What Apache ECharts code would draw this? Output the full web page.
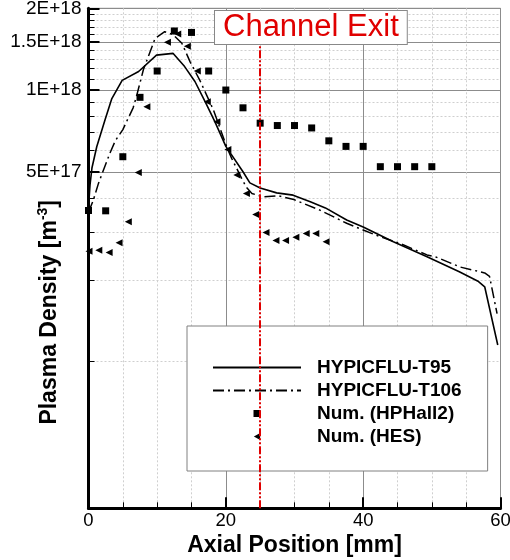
<!DOCTYPE html>
<html><head><meta charset="utf-8">
<script src="https://cdn.jsdelivr.net/npm/echarts@6/dist/echarts.min.js"></script>
<style>html,body{margin:0;padding:0;background:#fff}#c{width:510px;height:560px}</style>
</head><body><div id="c"></div>
<script>
const seriesNames = ['HYPICFLU-T95', 'HYPICFLU-T106', 'Num. (HPHall2)', 'Num. (HES)'];

const t95X = [0, 0.22, 0.5, 1.2, 2.4, 3.4, 4.9, 7.3, 9.9, 12.3, 14.0, 15.5, 17.0, 18.4, 20.0, 22.5, 23.5, 25.0, 27.4, 29.8, 32.3, 34.5, 37.6, 40.0, 44.4, 49.3, 54.0, 56.8, 57.7, 59.6];
const t95Y = [3.7e17, 4.47e17, 5.16e17, 6.18e17, 7.75e17, 9.3e17, 1.085e18, 1.17e18, 1.345e18, 1.365e18, 1.22e18, 1.075e18, 9.05e17, 7.65e17, 6.2e17, 5.0e17, 4.55e17, 4.36e17, 4.18e17, 4.1e17, 3.88e17, 3.68e17, 3.32e17, 3.13e17, 2.76e17, 2.43e17, 2.14e17, 1.97e17, 1.885e17, 1.15e17];

const t106X = [0, 0.7, 1.45, 3.1, 3.9, 5.0, 6.5, 7.0, 8.0, 9.7, 11.1, 12.3, 13.6, 14.8, 16.2, 18.2, 20.1, 20.85, 22.3, 23.0, 23.8, 25.4, 27.6, 29.9, 33.7, 37.6, 40.0, 42.5, 45.4, 49.3, 50.7, 54.1, 57.7, 58.4, 59.5];
const t106Y = [3.55e17, 3.93e17, 4.53e17, 5.84e17, 6.5e17, 7.15e17, 8.6e17, 9.5e17, 1.19e18, 1.55e18, 1.64e18, 1.6e18, 1.486e18, 1.27e18, 1.088e18, 8.44e17, 6.2e17, 5.6e17, 4.73e17, 4.38e17, 4.16e17, 4.04e17, 4.08e17, 3.95e17, 3.61e17, 3.23e17, 3.05e17, 2.88e17, 2.72e17, 2.47e17, 2.42e17, 2.23e17, 2.12e17, 2.06e17, 1.5e17];

const hphallX = [0, 2.5, 5, 7.5, 10, 12.5, 15, 17.5, 20, 22.5, 25, 27.5, 30, 32.5, 35, 37.5, 40, 42.5, 45, 47.5, 50];
const hphallY = [3.6e17, 3.59e17, 5.68e17, 9.4e17, 1.175e18, 1.65e18, 1.63e18, 1.175e18, 1.0e18, 8.6e17, 7.55e17, 7.4e17, 7.4e17, 7.25e17, 6.5e17, 6.2e17, 6.2e17, 5.22e17, 5.22e17, 5.22e17, 5.22e17];

const hesX = [0.07, 1.5, 3.0, 4.45, 5.8, 7.25, 8.5, 11.5, 13.0, 14.4, 15.85, 17.3, 18.7, 20.3, 21.6, 23.0, 24.35, 25.85, 27.3, 28.7, 30.2, 31.7, 33.1, 34.6];
const hesY = [2.55e17, 2.57e17, 2.52e17, 2.74e17, 3.27e17, 4.97e17, 8.68e17, 1.5e18, 1.61e18, 1.45e18, 1.175e18, 9.05e17, 7.64e17, 6.04e17, 4.86e17, 4.16e17, 3.48e17, 2.99e17, 2.79e17, 2.79e17, 2.87e17, 2.96e17, 2.96e17, 2.76e17];

const yTickValues = [5e17, 1e18, 1.5e18, 2e18];
const yTickLabels = ['5E+17', '1E+18', '1.5E+18', '2E+18'];
const yMinorValues = [1e17, 2e17, 3e17, 4e17, 6e17, 7e17, 8e17, 9e17, 1.1e18, 1.2e18, 1.3e18, 1.4e18, 1.6e18, 1.7e18, 1.8e18, 1.9e18];
const yMin = 2.88e16, yMax = 2e18;
const xMin = 0, xMax = 60, xInterval = 20;
const channelExitX = 25;
const annotationText = 'Channel Exit';
const xTitle = 'Axial Position [mm]';

const FF = '"Liberation Sans", Arial, sans-serif';
const zip = (xs, ys) => xs.map((x, i) => [x, ys[i]]);
const labelFor = v => {
  for (let i = 0; i < yTickValues.length; i++) {
    if (Math.abs(yTickValues[i] - v) / yTickValues[i] < 1e-6) return yTickLabels[i];
  }
  return '';
};

const chart = echarts.init(document.getElementById('c'), null, {renderer: 'canvas'});
chart.setOption({
  animation: false,
  backgroundColor: '#fff',
  grid: {left: 88.5, right: 9.5, top: 8.3, bottom: 51.7, containLabel: false, outerBoundsMode: 'none',
    show: true, borderColor: '#888', borderWidth: 1, backgroundColor: '#fff'},
  xAxis: [{
    type: 'value', min: xMin, max: xMax, interval: xInterval,
    axisLine: {show: true, onZero: false, lineStyle: {color: '#000', width: 3}},
    axisTick: {show: true, inside: true, length: 11, lineStyle: {color: '#000', width: 2}},
    minorTick: {show: true, splitNumber: 4, length: 6, lineStyle: {color: '#000', width: 1}},
    splitLine: {show: true, lineStyle: {color: '#8c8c8c', width: 1}},
    minorSplitLine: {show: true, lineStyle: {color: '#cfcfcf', width: 1, type: [2, 2]}},
    axisLabel: {fontSize: 18.5, color: '#000', fontFamily: FF, margin: 3, hideOverlap: false},
    name: xTitle, nameLocation: 'middle', nameGap: 26, nameMoveOverlap: false,
    nameTextStyle: {fontSize: 23, fontWeight: 'bold', color: '#000', fontFamily: FF}
  }],
  yAxis: [{
    type: 'log', min: yMin, max: yMax, position: 'left',
    axisLine: {show: true, lineStyle: {color: '#000', width: 3}},
    axisTick: {show: true, inside: true, length: 11, lineStyle: {color: '#000', width: 2}, customValues: yTickValues},
    axisLabel: {customValues: yTickValues, formatter: v => labelFor(v), fontSize: 19, color: '#000', fontFamily: FF, margin: 7, hideOverlap: false},
    splitLine: {show: true, lineStyle: {color: '#8c8c8c', width: 1}},
    name: '{a|Plasma Density [m}{s|-3}{a|]}', nameLocation: 'middle', nameGap: 26, nameMoveOverlap: false,
    nameTextStyle: {
      padding: [0, 108, 0, 0],
      rich: {
        a: {fontSize: 23, fontWeight: 'bold', color: '#000', fontFamily: FF, lineHeight: 26},
        s: {fontSize: 14, fontWeight: 'bold', color: '#000', fontFamily: FF, verticalAlign: 'top', lineHeight: 14}
      }
    }
  }, {
    type: 'log', min: yMin, max: yMax, position: 'left',
    axisLine: {show: false},
    axisTick: {show: true, inside: true, length: 6, lineStyle: {color: '#000', width: 1}, customValues: yMinorValues},
    axisLabel: {show: false},
    splitLine: {show: true, lineStyle: {color: '#cfcfcf', width: 1, type: [2, 2]}}
  }],
  legend: {
    show: true, orient: 'vertical', left: 187, top: 326,
    padding: [32, 26, 25, 25],
    backgroundColor: '#fff', borderColor: '#808080', borderWidth: 1,
    itemWidth: 88, itemHeight: 7, itemGap: 4, selectedMode: false,
    textStyle: {fontSize: 19, fontWeight: 'bold', color: '#000', fontFamily: FF, padding: [0, 0, 0, 11]},
    data: [
      {name: seriesNames[0], itemStyle: {opacity: 0}},
      {name: seriesNames[1], itemStyle: {opacity: 0}},
      {name: seriesNames[2], icon: 'path://M0,0L10,0L10,10L0,10Z', itemStyle: {opacity: 1}},
      {name: seriesNames[3], icon: 'path://M0,5L9,0L9,10Z', itemStyle: {opacity: 1}}
    ]
  },
  graphic: [{
    type: 'text', left: 214, top: 10, z: 100,
    style: {
      text: annotationText, fill: '#e00000', font: '31px "Liberation Sans", Arial, sans-serif',
      backgroundColor: '#fff', borderColor: '#888', borderWidth: 1, padding: [1, 8, 1, 8]
    }
  }],
  series: [{
    name: seriesNames[0], type: 'line', xAxisIndex: 0, yAxisIndex: 0,
    data: zip(t95X, t95Y), symbol: 'none', smooth: false,
    lineStyle: {color: '#000', width: 1.6}, itemStyle: {color: '#000'},
    markLine: {
      silent: true, symbol: 'none', label: {show: false},
      lineStyle: {color: '#e00000', width: 2, type: [8, 2, 2, 2, 2, 2]},
      data: [{xAxis: channelExitX}]
    }
  }, {
    name: seriesNames[1], type: 'line', xAxisIndex: 0, yAxisIndex: 0,
    data: zip(t106X, t106Y), symbol: 'none', smooth: false,
    lineStyle: {color: '#000', width: 1.5, type: [11, 4, 2, 4]}, itemStyle: {color: '#000'}
  }, {
    name: seriesNames[2], type: 'scatter', xAxisIndex: 0, yAxisIndex: 0,
    data: zip(hphallX, hphallY), symbol: 'rect', symbolSize: 7,
    itemStyle: {color: '#000', opacity: 1}
  }, {
    name: seriesNames[3], type: 'scatter', xAxisIndex: 0, yAxisIndex: 0,
    data: zip(hesX, hesY), symbol: 'triangle', symbolRotate: 90, symbolSize: 7,
    itemStyle: {color: '#000', opacity: 1}
  }]
});
</script>
</body></html>
